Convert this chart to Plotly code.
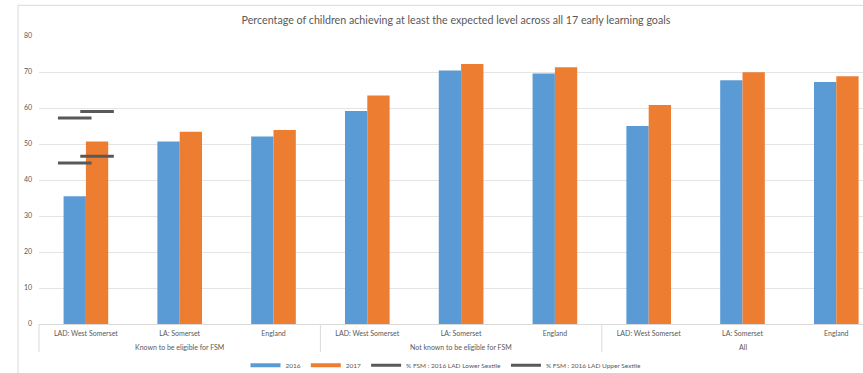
import plotly.graph_objects as go

groups = ["Known to be eligible for FSM", "Not known to be eligible for FSM", "All"]
areas = ["LAD: West Somerset", "LA: Somerset", "England"]
values_2016 = [35.5, 50.7, 52.1, 59.2, 70.4, 69.6, 55.0, 67.7, 67.2]
values_2017 = [50.7, 53.4, 53.9, 63.5, 72.2, 71.3, 60.8, 69.9, 68.8]
# sextile markers, only for LAD: West Somerset / FSM (2016 position, 2017 position)
lower_sextile = [44.7, 46.6]
upper_sextile = [57.2, 59.0]
y_ticks = [0, 10, 20, 30, 40, 50, 60, 70, 80]

BLUE = "#5b9bd5"
ORANGE = "#ed7d31"
GREY = "#595959"
LINE = "#d9d9d9"
FONT = "Lato"

n_areas = len(areas)
x_idx = list(range(len(groups) * n_areas))
x_labels = [a for g in groups for a in areas]

bargap = 0.524
off = (1 - bargap) / 4

L, T, H = 39, 35.7, 288
W = 863 - L
xr = [-0.5, -0.5 + W / 93.8]


def px_to_paper_y(py):
    return (T + H - py) / H


def idx_to_paper_x(v):
    return (v - xr[0]) / (xr[1] - xr[0])


fig = go.Figure()
fig.add_trace(go.Bar(x=x_idx, y=values_2016, name="2016", showlegend=False,
                     marker=dict(color=BLUE, line=dict(width=0))))
fig.add_trace(go.Bar(x=x_idx, y=values_2017, name="2017", showlegend=False,
                     marker=dict(color=ORANGE, line=dict(width=0))))
# legend entries for the bar series (Excel-style thin swatches)
fig.add_trace(go.Scatter(x=[None], y=[None], mode="lines", name="2016",
                         line=dict(color=BLUE, width=4)))
fig.add_trace(go.Scatter(x=[None], y=[None], mode="lines", name="2017",
                         line=dict(color=ORANGE, width=4)))
fig.add_trace(go.Scatter(x=[x_idx[0] - off, x_idx[0] + off], y=lower_sextile, mode="markers",
                         name="% FSM : 2016 LAD Lower Sextile", showlegend=False,
                         marker=dict(symbol="line-ew", size=24, line=dict(width=3, color=GREY), color=GREY)))
fig.add_trace(go.Scatter(x=[x_idx[0] - off, x_idx[0] + off], y=upper_sextile, mode="markers",
                         name="% FSM : 2016 LAD Upper Sextile", showlegend=False,
                         marker=dict(symbol="line-ew", size=24, line=dict(width=3, color=GREY), color=GREY)))
fig.add_trace(go.Scatter(x=[None], y=[None], mode="lines", name="% FSM : 2016 LAD Lower Sextile",
                         line=dict(color=GREY, width=3)))
fig.add_trace(go.Scatter(x=[None], y=[None], mode="lines", name="% FSM : 2016 LAD Upper Sextile",
                         line=dict(color=GREY, width=3)))

# group labels and dividers
annotations = []
shapes = [dict(type="rect", xref="paper", yref="paper",
               x0=(18 - L) / W, x1=1.05, y0=-0.5, y1=1 + (T - 5) / H,
               line=dict(color=LINE, width=1), fillcolor="rgba(0,0,0,0)", layer="below")]
for gi, g in enumerate(groups):
    start = gi * n_areas - 0.5
    center = gi * n_areas + (n_areas - 1) / 2
    annotations.append(dict(text=g, x=center, xref="x", y=px_to_paper_y(347), yref="paper",
                            showarrow=False, xanchor="center", yanchor="middle",
                            font=dict(family=FONT, size=7, color=GREY)))
    shapes.append(dict(type="line", xref="paper", yref="paper",
                       x0=idx_to_paper_x(start), x1=idx_to_paper_x(start),
                       y0=0, y1=px_to_paper_y(352), line=dict(color=LINE, width=1)))

fig.update_layout(
    width=863, height=373,
    margin=dict(l=L, r=0, t=T, b=373 - T - H, pad=0, autoexpand=False),
    paper_bgcolor="white", plot_bgcolor="white",
    bargap=bargap, barmode="group",
    font=dict(family=FONT, color=GREY, size=7),
    title=dict(text="Percentage of children achieving at least the expected level across all 17 early learning goals",
               x=456 / 863, xanchor="center", y=1 - 20 / 373, yanchor="middle",
               font=dict(family=FONT, size=10.7, color=GREY)),
    xaxis=dict(range=xr, tickvals=x_idx, ticktext=x_labels, showgrid=False, zeroline=False,
               showline=True, linecolor=LINE, linewidth=1, ticks="", ticklabelstandoff=3,
               tickfont=dict(size=7, color=GREY), automargin=False),
    yaxis=dict(range=[0, 80], tickvals=y_ticks, showgrid=True, gridcolor="#e4e4e4", gridwidth=1,
               zeroline=False, showline=False, ticks="", ticklabelstandoff=6,
               tickfont=dict(size=7, color=GREY), automargin=False),
    legend=dict(orientation="h", x=(446 - L) / W, xanchor="center", y=px_to_paper_y(365), yanchor="middle",
                font=dict(size=6.5, color=GREY), itemwidth=30, traceorder="normal", bgcolor="rgba(0,0,0,0)"),
    showlegend=True,
    annotations=annotations,
    shapes=shapes,
)

fig.write_html("out.html")
